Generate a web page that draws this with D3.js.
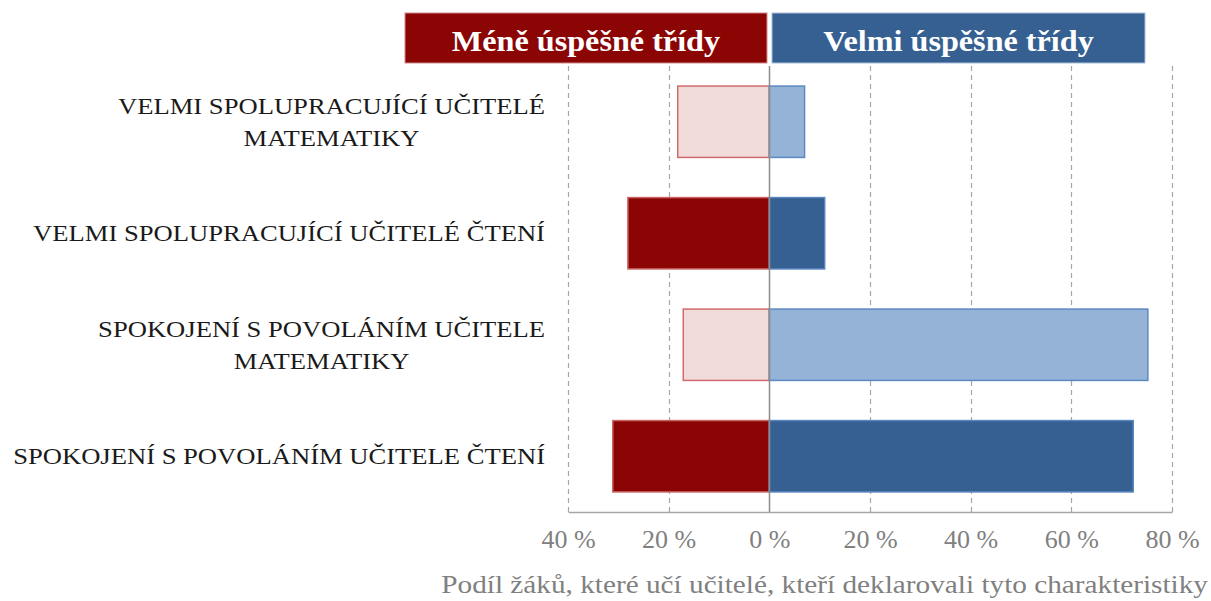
<!DOCTYPE html>
<html>
<head>
<meta charset="utf-8">
<script src="https://cdn.jsdelivr.net/npm/d3@7"></script>
<style>
  body { margin: 0; background: #fff; }
  svg { display: block; }
</style>
</head>
<body>
<svg id="chart" width="1211" height="601"></svg>
<script>
// kategorie (řádky shora dolů)
const categories = [
  ['VELMI SPOLUPRACUJÍCÍ UČITELÉ', 'MATEMATIKY'],
  ['VELMI SPOLUPRACUJÍCÍ UČITELÉ ČTENÍ'],
  ['SPOKOJENÍ S POVOLÁNÍM UČITELE', 'MATEMATIKY'],
  ['SPOKOJENÍ S POVOLÁNÍM UČITELE ČTENÍ']
];
const subject = ['mat', 'cten', 'mat', 'cten'];
// podíl žáků v %
const lessSuccessful = [18.2, 28.1, 17.1, 31.1];
const verySuccessful = [7.0, 11.0, 75.2, 72.3];
const tickValues = [-40, -20, 0, 20, 40, 60, 80];
const headers = ['Méně úspěšné třídy', 'Velmi úspěšné třídy'];
const axisTitle = 'Podíl žáků, které učí učitelé, kteří deklarovali tyto charakteristiky';

const FONT = '"Liberation Serif", "Times New Roman", serif';
const colors = {
  redDark: '#8B0505', redDarkStroke: '#C96464',
  redLight: '#F2DCDB', redLightStroke: '#CF6B6B',
  blueDark: '#366092', blueDarkStroke: '#5A86C0',
  blueLight: '#95B3D7', blueLightStroke: '#5B89C4'
};

// text v předloze je mírně roztažený do šířky
function stretch(sel, k) {
  sel.each(function() {
    const w = this.getComputedTextLength();
    d3.select(this).attr('textLength', w * k).attr('lengthAdjust', 'spacingAndGlyphs');
  });
}

const svg = d3.select('#chart');
const plotTop = 66, plotBottom = 512;

const x = d3.scaleLinear().domain([-40, 80]).range([568, 1172]);
const y = d3.scaleBand()
  .domain(d3.range(categories.length))
  .range([plotTop, plotBottom])
  .paddingInner(0.36)
  .paddingOuter(0.18);

// mřížka
svg.append('g').selectAll('line')
  .data(tickValues.filter(d => d !== 0))
  .enter().append('line')
  .attr('x1', d => Math.round(x(d)) + 0.5)
  .attr('x2', d => Math.round(x(d)) + 0.5)
  .attr('y1', plotTop)
  .attr('y2', plotBottom)
  .attr('stroke', '#a6a6a6')
  .attr('stroke-width', 1.2)
  .attr('stroke-dasharray', '5,4');

// sloupce
const bars = svg.append('g');
bars.selectAll('rect.less')
  .data(lessSuccessful)
  .enter().append('rect')
  .attr('class', 'less')
  .attr('x', d => x(-d))
  .attr('y', (d, i) => y(i))
  .attr('width', d => x(0) - x(-d))
  .attr('height', y.bandwidth())
  .attr('fill', (d, i) => subject[i] === 'mat' ? colors.redLight : colors.redDark)
  .attr('stroke', (d, i) => subject[i] === 'mat' ? colors.redLightStroke : colors.redDarkStroke)
  .attr('stroke-width', 1.5);

bars.selectAll('rect.very')
  .data(verySuccessful)
  .enter().append('rect')
  .attr('class', 'very')
  .attr('x', x(0))
  .attr('y', (d, i) => y(i))
  .attr('width', d => x(d) - x(0))
  .attr('height', y.bandwidth())
  .attr('fill', (d, i) => subject[i] === 'mat' ? colors.blueLight : colors.blueDark)
  .attr('stroke', (d, i) => subject[i] === 'mat' ? colors.blueLightStroke : colors.blueDarkStroke)
  .attr('stroke-width', 1.5);

// nulová osa
svg.append('line')
  .attr('x1', Math.round(x(0)) + 0.5)
  .attr('x2', Math.round(x(0)) + 0.5)
  .attr('y1', plotTop)
  .attr('y2', plotBottom)
  .attr('stroke', '#8c8c8c')
  .attr('stroke-width', 1.5);

// osa x
const gx = svg.append('g')
  .attr('transform', `translate(0,${plotBottom})`)
  .call(d3.axisBottom(x)
    .tickValues(tickValues)
    .tickSize(0)
    .tickPadding(18)
    .tickFormat(d => Math.abs(d) + ' %'));
gx.attr('font-family', null).attr('font-size', null);
gx.select('.domain').attr('stroke', '#a6a6a6').attr('stroke-width', 1.5);
gx.selectAll('text')
  .attr('fill', '#808080')
  .style('font-family', FONT)
  .style('font-size', '26px');

svg.append('text')
  .attr('x', 1208)
  .attr('y', 593)
  .attr('text-anchor', 'end')
  .attr('fill', '#808080')
  .style('font-family', FONT)
  .style('font-size', '25px')
  .text(axisTitle)
  .call(stretch, 1.17);

// popisky kategorií
const labelRight = 545;
const lineH = 32;
categories.forEach((lines, i) => {
  const g = svg.append('g');
  const cy = y(i) + y.bandwidth() / 2;
  const texts = lines.map((t, j) => g.append('text')
    .attr('text-anchor', 'middle')
    .attr('fill', '#1a1a1a')
    .style('font-family', FONT)
    .style('font-size', '24px')
    .attr('y', cy + 8 + (j - (lines.length - 1) / 2) * lineH)
    .text(t)
    .call(stretch, 1.108));
  const w = d3.max(texts, t => +t.attr('textLength'));
  texts.forEach(t => t.attr('x', labelRight - w / 2));
});

// záhlaví
const headerBoxes = [
  { x0: 405, x1: 767, fill: colors.redDark, stroke: '#d48a8a' },
  { x0: 772, x1: 1145, fill: colors.blueDark, stroke: '#a9bfdc' }
];
headerBoxes.forEach((b, i) => {
  svg.append('rect')
    .attr('x', b.x0)
    .attr('y', 13)
    .attr('width', b.x1 - b.x0)
    .attr('height', 50)
    .attr('fill', b.fill)
    .attr('stroke', b.stroke)
    .attr('stroke-width', 1);
  svg.append('text')
    .attr('x', (b.x0 + b.x1) / 2)
    .attr('y', 51)
    .attr('text-anchor', 'middle')
    .attr('fill', '#fff')
    .style('font-family', FONT)
    .style('font-weight', 'bold')
    .style('font-size', '29px')
    .text(headers[i])
    .call(stretch, 1.11);
});
</script>
</body>
</html>
